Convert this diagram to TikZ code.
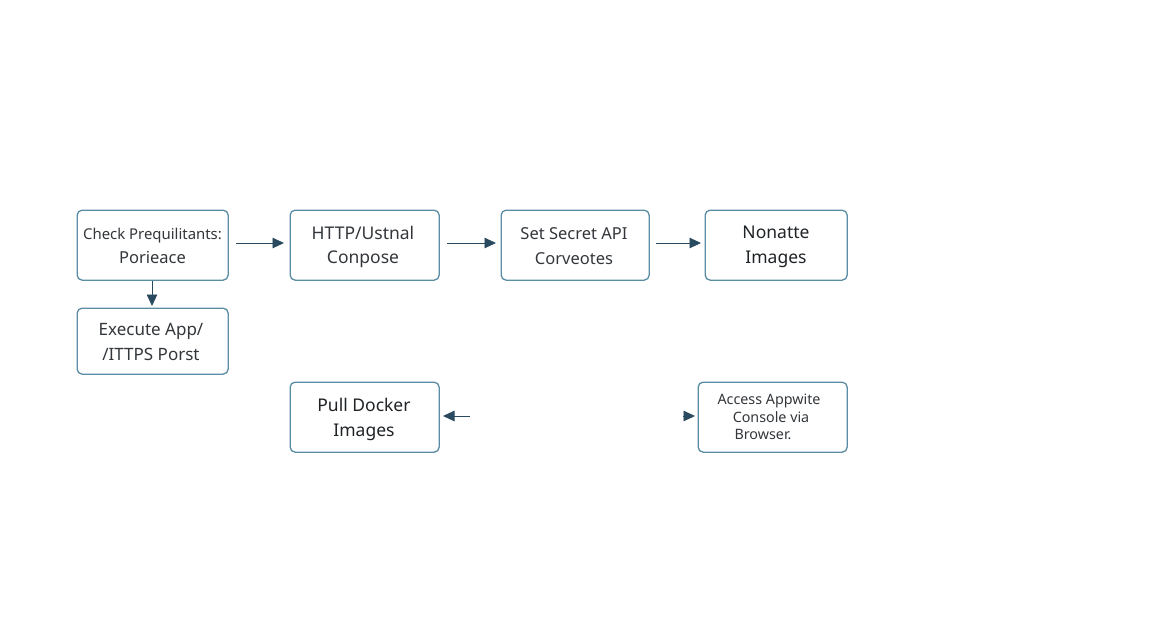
\documentclass[tikz,border=0pt]{standalone}
\usepackage{fontspec}
\setmainfont{Noto Sans}
\usetikzlibrary{arrows.meta}
\definecolor{boxline}{HTML}{5A8CA3}
\definecolor{arrowc}{HTML}{2A4A60}
\definecolor{txt}{HTML}{33373B}
\definecolor{txtdark}{HTML}{1F2326}
\tikzset{
  x=1pt,y=-1pt,
  flowbox/.style={draw=boxline,line width=1.3pt,rounded corners=5pt,fill=white,inner sep=0pt,anchor=north west},
  boxtext/.style={text=txt,font=\fontsize{16.5}{24.5}\selectfont,align=center,anchor=center,inner sep=0pt},
  midtext/.style={boxtext,font=\fontsize{17}{24.5}\selectfont},
  bigtext/.style={boxtext,text=txtdark,font=\fontsize{17.5}{24.5}\selectfont},
  smalltext/.style={text=txt,font=\fontsize{14.3}{17}\selectfont,anchor=center,inner sep=0pt},
  flowarrow/.style={draw=arrowc,line width=0.9pt,-{Triangle[length=11.5pt,width=10.5pt]}},
}
\newcommand{\flowbox}[5]{\node[flowbox,minimum width=#3-#1,minimum height=#4-#2] (#5) at (#1,#2) {};}
\begin{document}
\begin{tikzpicture}
\useasboundingbox (0,0) rectangle (1152,640);
\fill[white] (0,0) rectangle (1152,640);
\flowbox{76.5}{209.5}{227.5}{279.5}{a}
\flowbox{289.5}{209.5}{438.5}{279.5}{b}
\flowbox{500.5}{209.5}{648.5}{279.5}{c}
\flowbox{704.5}{209.5}{846.5}{279.5}{d}
\flowbox{76.5}{307.5}{227.5}{373.5}{e}
\flowbox{289.5}{381.5}{438.5}{451.5}{f}
\flowbox{697.5}{381.5}{846.5}{451.5}{g}
\node[boxtext,font=\fontsize{14.9}{24.5}\selectfont] (ta) at (152.5,246) {Check Prequilitants:\\\fontsize{16.5}{24.5}\selectfont Porieace};
\node[bigtext,text=txt] (tb) at (363,247) {HTTP/Ustnal\\Conpose};
\node[boxtext] (tc) at (574,246) {Set Secret API\\Corveotes};
\node[bigtext] (td) at (776,247) {Nonatte\\Images};
\node[midtext] (te) at (151,342) {Execute App/\\/ITTPS Porst};
\node[bigtext] (tf) at (364,419.5) {Pull Docker\\Images};
\node[smalltext] (tg1) at (769,400.5) {Access Appwite};
\node[smalltext] (tg2) at (771,417.5) {Console via};
\node[smalltext] (tg3) at (763,434.5) {Browser.};
\coordinate (a1) at (236,243);
\coordinate (a2) at (284,243);
\coordinate (b1) at (447,243);
\coordinate (b2) at (496,243);
\coordinate (c1) at (656,243);
\coordinate (c2) at (701,243);
\coordinate (v1) at (152,281);
\coordinate (v2) at (152,306);
\coordinate (f1) at (470,416);
\coordinate (f2) at (443,416);
\coordinate (g1) at (683,416);
\coordinate (g2) at (695,416);
\draw[flowarrow] (a1) -- (a2);
\draw[flowarrow] (b1) -- (b2);
\draw[flowarrow] (c1) -- (c2);
\draw[flowarrow] (v1) -- (v2);
\draw[flowarrow] (f1) -- (f2);
\draw[flowarrow] (g1) -- (g2);
\end{tikzpicture}
\end{document}
